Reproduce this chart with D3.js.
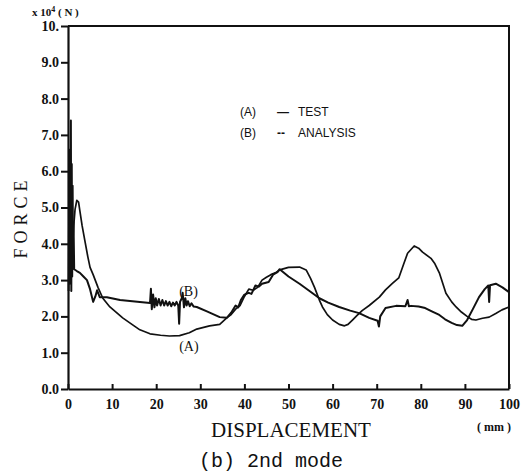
<!DOCTYPE html>
<html>
<head>
<meta charset="utf-8">
<script src="https://cdn.jsdelivr.net/npm/d3@7"></script>
<style>
  body { margin: 0; background: #fff; }
  text { fill: #111; }
</style>
</head>
<body>
<script>
    var width = 531, height = 476;

    /* data: [displacement (mm), force (x10^4 N)] */
    var xTicks = [0, 10, 20, 30, 40, 50, 60, 70, 80, 90, 100];
    var yTicks = [0, 1, 2, 3, 4, 5, 6, 7, 8, 9, 10];
    var yTickLabels = ["0.0", "1.0", "2.0", "3.0", "4.0", "5.0", "6.0", "7.0", "8.0", "9.0", "10."];

    var testA = [
        [0.6, 2.9], [1.0, 3.8], [1.3, 4.5], [1.6, 4.95], [2.0, 5.2], [2.4, 5.15], [2.7, 4.9],
        [3.2, 4.5], [3.8, 4.1], [4.5, 3.64], [5.0, 3.35], [5.7, 3.15], [6.8, 2.8], [7.9, 2.5],
        [9.5, 2.26], [12.4, 1.96], [14.5, 1.78], [16.3, 1.63], [18.6, 1.52], [21, 1.48],
        [23, 1.46], [25.3, 1.47], [27.5, 1.55], [29.2, 1.65], [32.1, 1.74], [34.4, 1.78],
        [36, 1.96], [37, 2.05], [38, 2.2], [39, 2.3], [40, 2.55], [41, 2.75], [42, 2.72],
        [43, 2.8], [44, 3.0], [45, 3.08], [46, 3.15], [47, 3.2], [48, 3.28], [50, 3.35],
        [52.5, 3.36], [54, 3.28], [55, 3.05], [55.9, 2.8], [57, 2.45], [57.7, 2.26],
        [58.8, 2.05], [60, 1.9], [61.5, 1.78], [62.7, 1.74], [63.5, 1.78], [64.5, 1.9],
        [65.5, 2.02], [66.7, 2.16], [68.3, 2.3], [70.6, 2.53], [72, 2.73], [73.5, 2.9],
        [75, 3.06], [76, 3.4], [77, 3.74], [78.5, 3.94], [79.5, 3.88], [80.4, 3.77],
        [82.3, 3.6], [83.2, 3.45], [84.2, 3.2], [85.7, 2.64], [87, 2.4], [88, 2.26],
        [89.2, 2.12], [90.5, 2.0], [91.5, 1.92], [92.5, 1.9], [94, 1.95], [95.5, 1.98],
        [97, 2.08], [98.4, 2.18], [100, 2.26]
    ];

    var analysisB = [
        [0.15, 2.7], [0.25, 5.0], [0.35, 2.9], [0.45, 6.6], [0.55, 3.3], [0.65, 7.4],
        [0.75, 2.7], [0.85, 6.2], [0.95, 3.1], [1.05, 5.6], [1.15, 3.4], [1.25, 4.6],
        [1.4, 3.3], [2.0, 3.25], [2.7, 3.2], [3.5, 3.1], [4.3, 3.0], [5.0, 2.75],
        [5.7, 2.4], [6.2, 2.55], [6.6, 2.72], [7.2, 2.53], [8.8, 2.53], [11.8, 2.45],
        [16.3, 2.4], [18.6, 2.37], [18.8, 2.76], [19.0, 2.2], [19.3, 2.6], [19.6, 2.25],
        [19.9, 2.5], [20.2, 2.3], [20.6, 2.48], [21.0, 2.3], [21.4, 2.45], [21.8, 2.3],
        [22.2, 2.42], [22.6, 2.3], [23.0, 2.4], [23.4, 2.28], [23.8, 2.38], [24.2, 2.3],
        [24.6, 2.4], [25.0, 2.3], [25.2, 1.8], [25.4, 2.4], [25.8, 2.5], [26.0, 2.65],
        [26.3, 2.25], [26.6, 2.5], [26.9, 2.3], [27.2, 2.42], [27.6, 2.28], [28.0, 2.36],
        [28.5, 2.27], [29.2, 2.26], [31.5, 2.14], [34.4, 1.98], [36, 1.96], [37, 2.1],
        [38, 2.3], [38.6, 2.25], [39.2, 2.45], [40, 2.6], [41, 2.65], [41.6, 2.62],
        [42.5, 2.85], [43.3, 2.82], [44, 2.9], [45.5, 2.95], [46.5, 3.15], [47.5, 3.22],
        [48, 3.3], [50, 3.1], [52.5, 2.9], [55, 2.68], [57, 2.5], [59, 2.38], [61.5, 2.26],
        [64, 2.16], [66, 2.09], [68.3, 1.96], [70.2, 1.88], [70.5, 1.72], [70.8, 2.0],
        [72, 2.23], [74.4, 2.29], [76.5, 2.28], [77, 2.45], [77.3, 2.28], [77.8, 2.29],
        [79.5, 2.27], [81, 2.23], [82.5, 2.14], [84.2, 2.04], [85.5, 1.92], [87, 1.82],
        [88.2, 1.76], [89.4, 1.74], [90.5, 1.9], [91.8, 2.2], [93.2, 2.53], [94.5, 2.75],
        [95.3, 2.85], [95.5, 2.4], [95.7, 2.86], [97, 2.9], [98.5, 2.8], [100, 2.67]
    ];

    var svg = d3.select("body")
        .append("svg").attr("width", width).attr("height", height);

    var x = d3.scaleLinear().domain([0, 100]).range([68, 509]);
    var y = d3.scaleLinear().domain([0, 10]).range([389, 26]);

    /* frame: top and right border */
    svg.append("path")
        .attr("d", "M" + x(0) + "," + y(10) + "H" + x(100) + "V" + y(0))
        .attr("fill", "none").attr("stroke", "#111").attr("stroke-width", 2);

    /* axes */
    var xAxis = d3.axisBottom(x).tickValues(xTicks).tickSizeInner(-5).tickSizeOuter(0)
        .tickPadding(10).tickFormat(d3.format("d"));
    var gx = svg.append("g").attr("transform", "translate(0," + y(0) + ")").call(xAxis);

    var yAxis = d3.axisLeft(y).tickValues(yTicks).tickSizeInner(7).tickSizeOuter(0)
        .tickPadding(2).tickFormat(function(d, i) { return yTickLabels[i]; });
    var gy = svg.append("g").attr("transform", "translate(" + x(0) + ",0)").call(yAxis);

    [gx, gy].forEach(function(g) {
        g.select(".domain").attr("stroke", "#111").attr("stroke-width", 2.2);
        g.selectAll(".tick line").attr("stroke", "#111").attr("stroke-width", 2);
        g.selectAll(".tick text")
            .style("font-family", "'Liberation Serif', serif")
            .style("font-size", "14px").style("font-weight", "bold")
            .attr("fill", "#111");
    });

    /* curves */
    var line = d3.line().x(function(d) { return x(d[0]); }).y(function(d) { return y(d[1]); });

    svg.append("path").datum(testA).attr("d", line)
        .attr("fill", "none").attr("stroke", "#111").attr("stroke-width", 1.7)
        .attr("stroke-linejoin", "round");
    svg.append("path").datum(analysisB).attr("d", line)
        .attr("fill", "none").attr("stroke", "#111").attr("stroke-width", 2)
        .attr("stroke-linejoin", "round");

    /* curve labels */
    svg.append("text").attr("x", x(25.2)).attr("y", y(2.55)).text("(B)")
        .style("font-family", "'Liberation Serif', serif").style("font-size", "14px");
    svg.append("text").attr("x", x(25.2)).attr("y", y(1.05)).text("(A)")
        .style("font-family", "'Liberation Serif', serif").style("font-size", "14px");

    /* legend */
    var legend = [["(A)", "\u2014", "TEST"], ["(B)", "--", "ANALYSIS"]];
    legend.forEach(function(l, i) {
        var ly = 116 + i * 21;
        var g = svg.append("g").style("font-family", "'Liberation Sans Narrow', 'Liberation Sans', sans-serif")
            .style("font-size", "12px");
        g.append("text").attr("x", 240).attr("y", ly).text(l[0]);
        g.append("text").attr("x", 277).attr("y", ly).text(l[1]).style("font-weight", "bold");
        g.append("text").attr("x", 298).attr("y", ly).text(l[2]);
    });

    /* axis titles */
    svg.append("text")
        .attr("transform", "translate(27,217) rotate(-90)")
        .attr("text-anchor", "middle")
        .style("font-family", "'Liberation Serif', serif").style("font-size", "18px")
        .style("letter-spacing", "5px")
        .text("FORCE");

    svg.append("text").attr("x", 32).attr("y", 16)
        .style("font-family", "'Liberation Serif', serif").style("font-size", "11px")
        .style("font-weight", "bold")
        .html("x 10<tspan dy='-4' font-size='8'>4</tspan><tspan dy='4'> ( N )</tspan>");

    svg.append("text").attr("x", 291).attr("y", 437)
        .attr("text-anchor", "middle")
        .style("font-family", "'Liberation Serif', serif").style("font-size", "21px")
        .text("DISPLACEMENT");

    svg.append("text").attr("x", 494).attr("y", 431)
        .attr("text-anchor", "middle")
        .style("font-family", "'Liberation Serif', serif").style("font-size", "12px")
        .style("font-weight", "bold")
        .text("( mm )");

    svg.append("text").attr("x", 271).attr("y", 467)
        .attr("text-anchor", "middle")
        .style("font-family", "'Liberation Mono', monospace").style("font-size", "20px")
        .text("(b) 2nd mode");
</script>
</body>
</html>
